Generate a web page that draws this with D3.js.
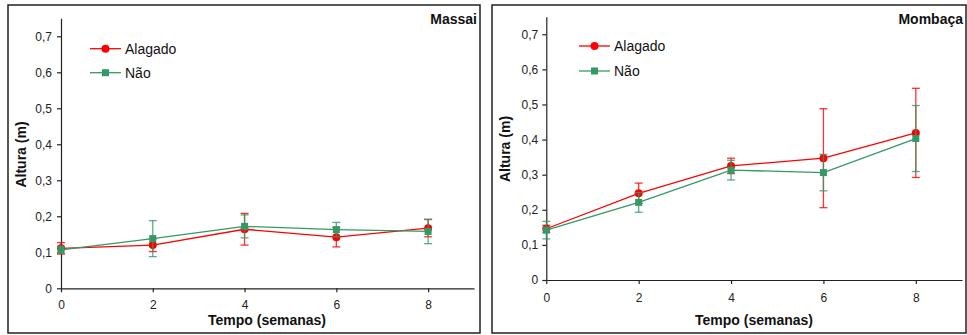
<!DOCTYPE html>
<html>
<head>
<meta charset="utf-8">
<script src="https://cdn.jsdelivr.net/npm/d3@7/dist/d3.min.js"></script>
<style>
  body { margin: 0; background: #fff; }
  svg { display: block; font-family: "Liberation Sans", Arial, sans-serif; }
</style>
</head>
<body>
<svg id="chart" width="967" height="335"></svg>
<script>
// Plant height over time (weeks), flooded vs. non-flooded, two cultivars
const semanas = [0, 2, 4, 6, 8];
const xTickValues = [0, 2, 4, 6, 8];
const yTickValues = [0, 0.1, 0.2, 0.3, 0.4, 0.5, 0.6, 0.7];
const seriesNames = ["Alagado", "Não"];
const panelTitles = ["Massai", "Mombaça"];

// Massai
const massaiAlagado = [0.111, 0.120, 0.164, 0.142, 0.167];
const massaiAlagadoErro = [0.016, 0.018, 0.044, 0.027, 0.024];
const massaiNao = [0.107, 0.138, 0.172, 0.163, 0.158];
const massaiNaoErro = [0.010, 0.050, 0.032, 0.020, 0.034];

// Mombaça
const mombacaAlagado = [0.146, 0.247, 0.325, 0.347, 0.419];
const mombacaAlagadoErro = [0.010, 0.029, 0.022, 0.141, 0.127];
const mombacaNao = [0.142, 0.221, 0.313, 0.306, 0.403];
const mombacaNaoErro = [0.025, 0.028, 0.028, 0.052, 0.094];

const colors = ["#ff0000", "#339966"];

const svg = d3.select("#chart");
const fmt = d => d === 0 ? "0" : d3.format(".1f")(d).replace(".", ",");

const panels = [
  {
    title: panelTitles[0],
    frame: { x: 8, y: 5, w: 472, h: 328 },
    xRange: [61, 474], yRange: [288.3, 18.3],
    xPad: 8.5, yPad: 5,
    xTitle: { x: 267, y: 325 }, yTitle: { x: 26, y: 154.5 },
    label: { x: 477, y: 24 },
    legend: { x0: 90, x1: 121, tx: 125, y: [48.7, 72.7] },
    series: [
      { v: massaiAlagado, e: massaiAlagadoErro },
      { v: massaiNao, e: massaiNaoErro }
    ]
  },
  {
    title: panelTitles[1],
    frame: { x: 492, y: 5, w: 474, h: 328 },
    xRange: [546.3, 962], yRange: [280, 16.7],
    xPad: 9.5, yPad: 4,
    xTitle: { x: 754, y: 325 }, yTitle: { x: 510, y: 149 },
    label: { x: 963, y: 24 },
    legend: { x0: 579, x1: 610, tx: 614, y: [46, 71] },
    series: [
      { v: mombacaAlagado, e: mombacaAlagadoErro },
      { v: mombacaNao, e: mombacaNaoErro }
    ]
  }
];

function marker(g, i, cx, cy) {
  if (i === 0) {
    g.append("circle").attr("cx", cx).attr("cy", cy).attr("r", 4).attr("fill", colors[0]);
  } else {
    g.append("rect").attr("x", cx - 3.5).attr("y", cy - 3.5)
      .attr("width", 7).attr("height", 7).attr("fill", colors[1]);
  }
}

panels.forEach(p => {
  const g = svg.append("g");

  g.append("rect")
    .attr("x", p.frame.x).attr("y", p.frame.y)
    .attr("width", p.frame.w).attr("height", p.frame.h)
    .attr("fill", "none").attr("stroke", "#222").attr("stroke-width", 1.5);

  const x = d3.scaleLinear().domain([0, 9]).range(p.xRange);
  const y = d3.scaleLinear().domain([0, 0.75]).range(p.yRange);

  // Axes
  const xAxis = g.append("g")
    .attr("transform", `translate(0,${p.yRange[0]})`)
    .call(d3.axisBottom(x).tickValues(xTickValues).tickSize(4).tickPadding(p.xPad).tickSizeOuter(0));
  const yAxis = g.append("g")
    .attr("transform", `translate(${p.xRange[0]},0)`)
    .call(d3.axisLeft(y).tickValues(yTickValues).tickFormat(fmt).tickSize(4).tickPadding(p.yPad).tickSizeOuter(0));
  [xAxis, yAxis].forEach(a => {
    a.select(".domain").attr("stroke", "#222").attr("stroke-width", 1.2);
    a.selectAll(".tick line").attr("stroke", "#222").attr("stroke-width", 1.2);
    a.selectAll(".tick text").attr("fill", "#222").style("font-size", "12px")
      .style("font-family", "'Liberation Sans', Arial, sans-serif");
  });

  // Axis titles
  g.append("text").attr("x", p.xTitle.x).attr("y", p.xTitle.y)
    .attr("text-anchor", "middle").attr("font-weight", "bold").attr("font-size", 14)
    .attr("fill", "#111").text("Tempo (semanas)");
  g.append("text")
    .attr("transform", `translate(${p.yTitle.x},${p.yTitle.y}) rotate(-90)`)
    .attr("text-anchor", "middle").attr("font-weight", "bold").attr("font-size", 14)
    .attr("fill", "#111").text("Altura (m)");

  // Panel label
  g.append("text").attr("x", p.label.x).attr("y", p.label.y)
    .attr("text-anchor", "end").attr("font-weight", "bold").attr("font-size", 14)
    .attr("fill", "#111").text(p.title);

  // Series: error bars, line, markers
  const line = d3.line().x((d, i) => x(semanas[i])).y(d => y(d));
  p.series.forEach((s, si) => {
    const sg = g.append("g");
    const eb = sg.append("g").attr("stroke", colors[si]).attr("stroke-width", 1.3).attr("stroke-opacity", 0.8);
    s.v.forEach((v, i) => {
      const cx = x(semanas[i]);
      const top = y(v + s.e[i]), bot = y(v - s.e[i]);
      eb.append("line").attr("x1", cx).attr("x2", cx).attr("y1", top).attr("y2", bot);
      eb.append("line").attr("x1", cx - 4).attr("x2", cx + 4).attr("y1", top).attr("y2", top);
      eb.append("line").attr("x1", cx - 4).attr("x2", cx + 4).attr("y1", bot).attr("y2", bot);
    });
    sg.append("path").datum(s.v).attr("d", line)
      .attr("fill", "none").attr("stroke", colors[si]).attr("stroke-width", 1.3);
    s.v.forEach((v, i) => marker(sg, si, x(semanas[i]), y(v)));
  });

  // Legend
  seriesNames.forEach((name, i) => {
    const ly = p.legend.y[i];
    g.append("line").attr("x1", p.legend.x0).attr("x2", p.legend.x1)
      .attr("y1", ly).attr("y2", ly).attr("stroke", colors[i]).attr("stroke-width", 1.3);
    marker(g, i, (p.legend.x0 + p.legend.x1) / 2, ly);
    g.append("text").attr("x", p.legend.tx).attr("y", ly + 5)
      .attr("font-size", 14).attr("fill", "#111").text(name);
  });
});
</script>
</body>
</html>
